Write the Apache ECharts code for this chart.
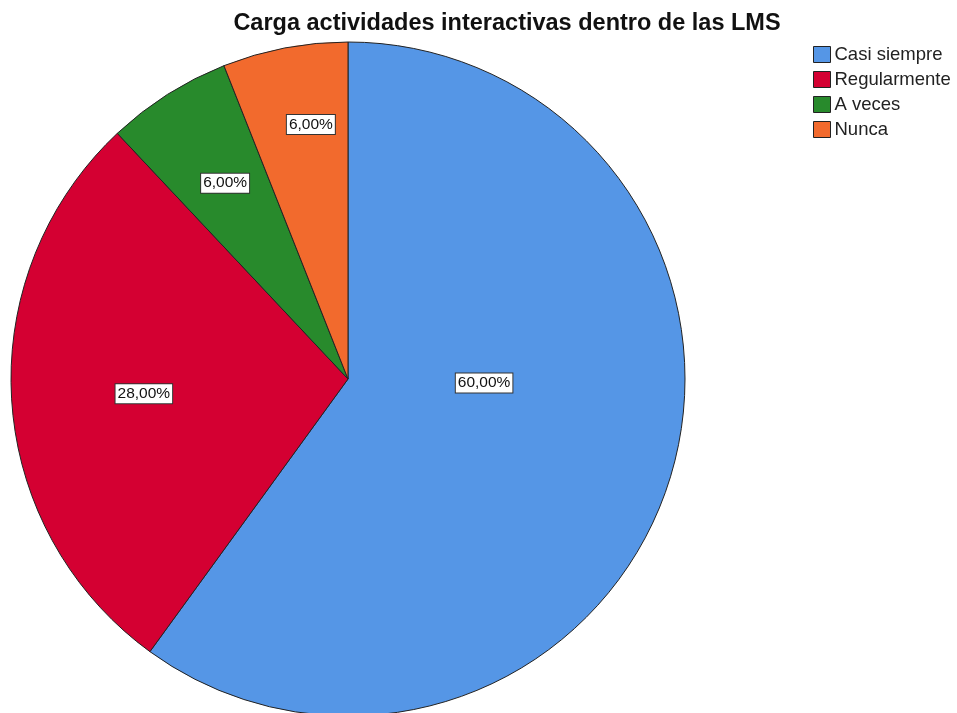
<!DOCTYPE html>
<html>
<head>
<meta charset="utf-8">
<script src="https://cdn.jsdelivr.net/npm/echarts@6/dist/echarts.min.js"></script>
<style>
  html, body { margin: 0; padding: 0; background: #fff; }
  #chart { width: 957px; height: 713px; }
</style>
</head>
<body>
<div id="chart"></div>
<script>
// datos
const categories = ['Casi siempre', 'Regularmente', 'A veces', 'Nunca'];
const percents = [60, 28, 6, 6];

const colors = ['#5596E6', '#D40032', '#288A2C', '#F26A2D'];
// desplazamiento de cada etiqueta respecto a la posicion 'inside'
const labelOffsets = [[-27, -49], [-33, 4], [-31, -51], [-5, -86]];

const chart = echarts.init(document.getElementById('chart'));

const option = {
  animation: false,
  title: {
    text: 'Carga actividades interactivas dentro de las LMS',
    left: 502,
    textAlign: 'center',
    top: 7,
    textStyle: {
      fontFamily: 'Liberation Sans, Arial, sans-serif',
      fontSize: 23.5,
      fontWeight: 'bold',
      color: '#111'
    }
  },
  legend: {
    orient: 'vertical',
    left: 808,
    top: 40,
    icon: 'rect',
    itemWidth: 17,
    itemHeight: 16,
    itemGap: 6,
    data: categories,
    itemStyle: { borderColor: '#222', borderWidth: 1 },
    textStyle: {
      fontFamily: 'Liberation Sans, Arial, sans-serif',
      fontSize: 18.5,
      color: '#222',
      padding: [0, 0, 0, -1]
    }
  },
  series: [
    {
      type: 'pie',
      center: [348, 379],
      radius: 337,
      startAngle: 90,
      clockwise: true,
      avoidLabelOverlap: false,
      itemStyle: { borderColor: '#222', borderWidth: 1 },
      label: {
        show: true,
        position: 'inside',
        formatter: p => p.value.toFixed(2).replace('.', ',') + '%',
        fontFamily: 'Liberation Sans, Arial, sans-serif',
        fontSize: 15.5,
        color: '#111',
        backgroundColor: '#fff',
        borderColor: '#333',
        borderWidth: 1,
        padding: [2, 2, 1, 2]
      },
      labelLine: { show: false },
      emphasis: { disabled: true },
      data: categories.map((name, i) => ({
        name: name,
        value: percents[i],
        itemStyle: { color: colors[i] },
        label: { offset: labelOffsets[i] }
      }))
    }
  ]
};

chart.setOption(option);
</script>
</body>
</html>
